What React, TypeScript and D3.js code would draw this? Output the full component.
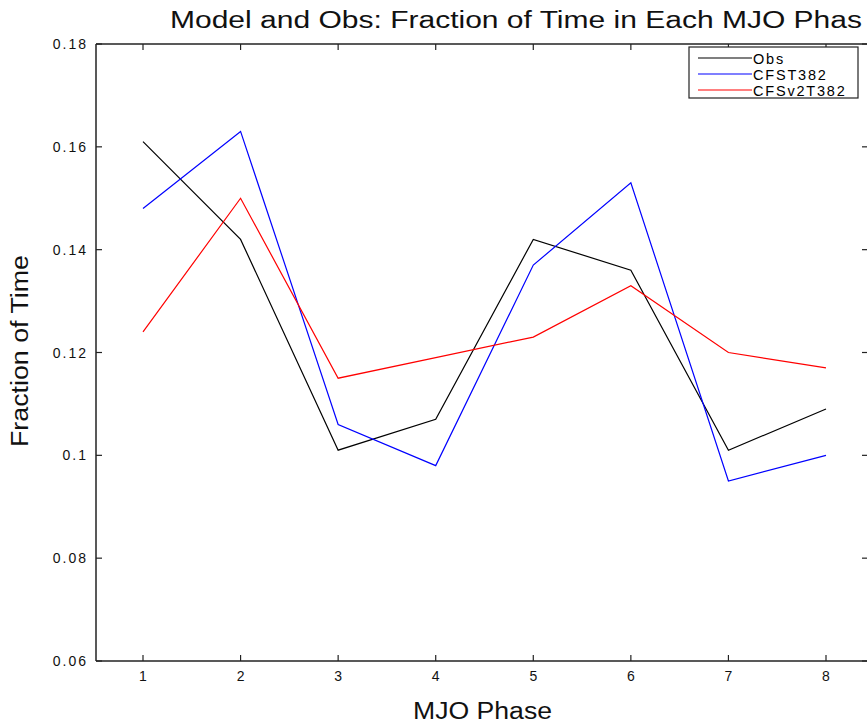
import React from "react";
import * as d3 from "d3";

const phases = [1, 2, 3, 4, 5, 6, 7, 8];
const obs = [0.161, 0.142, 0.101, 0.107, 0.142, 0.136, 0.101, 0.109];
const cfst382 = [0.148, 0.163, 0.106, 0.098, 0.137, 0.153, 0.095, 0.1];
const cfsv2t382 = [0.124, 0.15, 0.115, 0.119, 0.123, 0.133, 0.12, 0.117];
const seriesNames = ["Obs", "CFST382", "CFSv2T382"];
const seriesColors = ["#000000", "#0000ff", "#ff0000"];
const yTicks = [0.06, 0.08, 0.1, 0.12, 0.14, 0.16, 0.18];
const yTickLabels = ["0.06", "0.08", "0.1", "0.12", "0.14", "0.16", "0.18"];

const W = 867;
const H = 726;
const left = 96;
const right = 868;
const top = 44;
const bottom = 661;

export default function App() {
  const x = d3.scaleLinear().domain([1, 8]).range([143, 826]);
  const y = d3.scaleLinear().domain([0.06, 0.18]).range([bottom, top]);
  const line = d3
    .line<number>()
    .x((_, i) => x(phases[i]))
    .y((d) => y(d));
  const all = [obs, cfst382, cfsv2t382];
  const font = "'Liberation Sans', Arial, Helvetica, sans-serif";
  const tickLen = 6;
  const axisColor = "#222";

  return (
    <svg
      width={W}
      height={H}
      style={{ position: "absolute", left: 0, top: 0, background: "#fff" }}
      fontFamily={font}
    >
      <rect x={0} y={0} width={W} height={H} fill="#fff" />
      {all.map((s, k) => (
        <path
          key={k}
          d={line(s) || ""}
          fill="none"
          stroke={seriesColors[k]}
          strokeWidth={1.2}
        />
      ))}
      {/* frame */}
      <line x1={left} x2={right} y1={top} y2={top} stroke={axisColor} strokeWidth={1.5} />
      <line x1={left} x2={right} y1={bottom} y2={bottom} stroke={axisColor} strokeWidth={1.5} />
      <line x1={left} x2={left} y1={top} y2={bottom} stroke={axisColor} strokeWidth={1.5} />
      <line x1={right} x2={right} y1={top} y2={bottom} stroke={axisColor} strokeWidth={1.5} />
      {/* x ticks */}
      {phases.map((p) => (
        <g key={"xt" + p}>
          <line x1={x(p)} x2={x(p)} y1={bottom} y2={bottom - tickLen} stroke={axisColor} strokeWidth={1.2} />
          <line x1={x(p)} x2={x(p)} y1={top} y2={top + tickLen} stroke={axisColor} strokeWidth={1.2} />
          <text x={x(p)} y={bottom + 20} textAnchor="middle" fontSize={14} fill="#111">
            {p}
          </text>
        </g>
      ))}
      {/* y ticks */}
      {yTicks.map((t, i) => (
        <g key={"yt" + i}>
          <line x1={left} x2={left + tickLen} y1={y(t)} y2={y(t)} stroke={axisColor} strokeWidth={1.2} />
          <line x1={right} x2={right - tickLen} y1={y(t)} y2={y(t)} stroke={axisColor} strokeWidth={1.2} />
          <text x={left - 8} y={y(t) + 5} textAnchor="end" fontSize={14} letterSpacing={2} fill="#111">
            {yTickLabels[i]}
          </text>
        </g>
      ))}
      {/* legend */}
      <rect x={689} y={47} width={169} height={51} fill="#fff" stroke={axisColor} strokeWidth={1.2} />
      {seriesNames.map((n, k) => (
        <g key={"lg" + k}>
          <line x1={698} x2={752} y1={58 + k * 16} y2={58 + k * 16} stroke={seriesColors[k]} strokeWidth={1.2} />
          <text x={753} y={58 + k * 16 + 5.5} fontSize={14.5} letterSpacing={1.8} fill="#000">
            {n}
          </text>
        </g>
      ))}
      {/* titles */}
      <text x={170} y={28} fontSize={23} textLength={692} lengthAdjust="spacingAndGlyphs" fill="#111">
        Model and Obs: Fraction of Time in Each MJO Phas
      </text>
      <text x={413} y={719} fontSize={23} textLength={139} lengthAdjust="spacingAndGlyphs" fill="#111">
        MJO Phase
      </text>
      <text
        transform={`translate(28, 447) rotate(-90)`}
        fontSize={23}
        textLength={192}
        lengthAdjust="spacingAndGlyphs"
        fill="#111"
      >
        Fraction of Time
      </text>
    </svg>
  );
}
